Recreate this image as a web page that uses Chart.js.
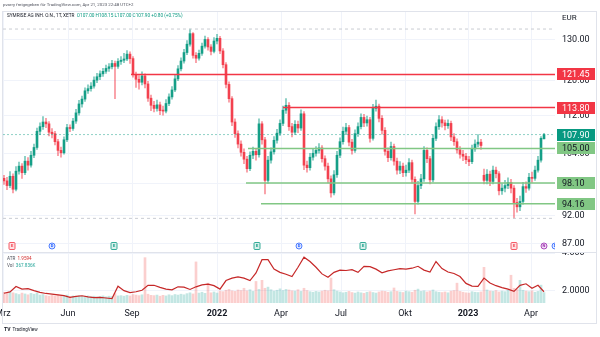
<!DOCTYPE html>
<html>
<head>
<meta charset="utf-8">
<script src="https://cdn.jsdelivr.net/npm/chart.js@4.4.0/dist/chart.umd.min.js"></script>
<style>
  body { margin: 0; width: 600px; height: 337px; background: #fff; overflow: hidden; position: relative; font-family: Roboto, sans-serif; }
  canvas { position: absolute; left: 0; }
  #priceChart { top: 11px; }
  #atrChart { top: 252px; }
  #frame { position: absolute; left: 2px; top: 11px; width: 595px; height: 313px; border: 1px solid #e0e3eb; box-sizing: border-box; pointer-events: none; }
  #sep { position: absolute; left: 2px; top: 252px; width: 595px; height: 1px; background: #e0e3eb; }
  .txt { position: absolute; white-space: nowrap; line-height: 1; }
  #shared { left: 3px; top: 3px; font-size: 4.4px; color: #50535e; }
  #legend { left: 7px; top: 14px; font-size: 4.7px; color: #131722; }
  #legend .v { color: #089981; }
  #cur { left: 562px; top: 14px; font-size: 8px; color: #131722; }
  #atrLegend { left: 7px; top: 255px; font-size: 4.6px; color: #50535e; line-height: 7px; }
  #atrLegend .a { color: #d32f2f; }
  #atrLegend .vv { color: #26a69a; }
  #brand { left: 4px; top: 327px; font-size: 4.6px; color: #131722; }
  #brand b { font-size: 5px; margin-right: 1px; }
</style>
</head>
<body>
<canvas id="priceChart" width="597" height="241"></canvas>
<canvas id="atrChart" width="597" height="71"></canvas>
<div id="sep"></div>
<div id="frame"></div>
<div class="txt" id="shared">pvarry freigegeben für TradingView.com, Apr 21, 2023 22:48 UTC+2</div>
<div class="txt" id="legend"></div>
<div class="txt" id="cur">EUR</div>
<div class="txt" id="atrLegend"></div>
<div class="txt" id="brand"><b>TV</b> TradingView</div>
<script>
// SYMRISE AG, daily candles grouped by 3 sessions (x = session number)
const step = 3;
const opens = [
  99.0, 98.5, 97.6, 99.4, 96.9, 100.4, 101.4, 100.1, 102.4, 101.6,
  103.6, 105.2, 108.6, 109.6, 110.6, 110.2, 108.4, 108.1, 106.4, 104.6,
  104.1, 106.8, 109.4, 109.2, 110.8, 112.6, 114.6, 115.7, 117.6, 118.1,
  118.7, 120.1, 120.9, 121.6, 122.2, 122.9, 123.3, 124.1, 123.4, 124.6,
  124.9, 125.2, 126.4, 125.3, 121.4, 120.3, 119.6, 121.1, 119.2, 115.9,
  114.3, 113.6, 114.4, 113.1, 113.0, 114.7, 116.2, 117.8, 120.4, 122.8,
  124.7, 126.8, 128.9, 131.6, 126.1, 125.4, 126.6, 128.4, 130.1, 128.2,
  127.1, 129.7, 130.4, 127.2, 123.8, 119.1, 115.8, 110.6, 108.1, 105.9,
  104.2, 102.8, 100.9, 103.6, 104.4, 103.7, 110.2, 106.8, 98.6, 102.6,
  104.3, 106.7, 108.2, 110.3, 113.2, 114.3, 109.6, 108.4, 110.1, 109.3,
  112.4, 101.6, 101.1, 103.2, 104.0, 104.6, 105.1, 102.9, 101.4, 98.9,
  96.2, 99.7, 103.6, 106.4, 108.6, 109.4, 106.3, 104.6, 108.1, 109.6,
  111.6, 110.4, 111.1, 107.1, 113.6, 114.1, 111.4, 108.8, 104.4, 103.1,
  105.4, 102.4, 100.6, 101.4, 100.1, 100.6, 102.1, 98.8, 94.6, 97.6,
  98.9, 104.6, 102.9, 98.7, 107.1, 109.6, 111.1, 110.4, 109.8, 110.3,
  107.4, 106.4, 104.7, 103.8, 103.4, 102.7, 102.3, 104.9, 105.9, 106.3,
  99.6, 98.6, 99.8, 98.4, 100.6, 99.9, 96.6, 97.1, 97.6, 98.2,
  97.1, 94.4, 93.6, 94.6, 97.4, 97.1, 99.2, 99.0, 100.6, 102.6,
  107.0
];
const highs = [
  99.6, 99.2, 100.3, 99.9, 101.3, 102.2, 101.9, 103.4, 103.1, 104.4,
  105.9, 109.3, 110.4, 111.8, 111.4, 110.7, 109.2, 108.6, 106.9, 105.3,
  107.4, 110.1, 110.0, 111.4, 113.4, 115.4, 116.4, 118.3, 119.0, 119.5,
  120.9, 121.7, 122.3, 122.9, 123.7, 124.1, 124.9, 124.7, 125.3, 125.8,
  126.6, 127.3, 127.0, 125.8, 122.0, 121.2, 122.1, 121.6, 119.8, 116.6,
  115.2, 115.5, 115.0, 114.1, 115.6, 116.9, 118.6, 121.3, 123.6, 125.5,
  127.6, 129.8, 132.8, 131.9, 126.8, 127.4, 129.2, 131.0, 130.6, 128.8,
  130.6, 131.4, 130.9, 127.8, 124.3, 119.7, 116.3, 111.3, 108.7, 106.6,
  104.9, 103.4, 104.3, 105.3, 105.0, 111.3, 110.7, 107.3, 103.4, 105.1,
  107.5, 109.0, 111.1, 114.1, 115.8, 114.9, 110.3, 110.9, 110.8, 113.3,
  112.9, 102.4, 104.0, 104.8, 105.4, 106.0, 105.6, 103.5, 102.0, 99.5,
  100.5, 104.4, 107.2, 109.5, 110.3, 109.9, 106.9, 108.9, 110.4, 112.4,
  112.3, 111.9, 111.6, 114.5, 115.5, 114.6, 112.0, 109.4, 105.1, 106.3,
  105.9, 103.0, 102.3, 102.0, 101.6, 102.9, 102.6, 99.3, 98.4, 99.8,
  105.4, 105.1, 103.4, 107.9, 110.4, 112.0, 111.8, 111.0, 111.1, 110.8,
  108.1, 107.0, 105.4, 104.6, 104.0, 103.4, 105.7, 106.8, 107.9, 106.9,
  100.8, 100.7, 100.4, 101.4, 101.2, 100.3, 98.0, 98.6, 99.1, 98.8,
  97.6, 95.2, 95.6, 98.2, 98.3, 100.0, 100.2, 101.4, 103.4, 107.5,
  108.15
];
const lows = [
  97.8, 96.8, 97.2, 96.2, 96.6, 99.8, 99.0, 99.7, 100.6, 101.2,
  103.1, 104.8, 107.9, 109.0, 109.4, 107.6, 107.2, 105.7, 103.5, 103.2,
  103.8, 106.4, 108.5, 108.8, 110.3, 112.1, 113.9, 115.2, 117.0, 117.5,
  118.2, 119.5, 120.2, 121.0, 121.7, 122.2, 122.8, 115.8, 122.9, 123.9,
  124.3, 124.8, 124.1, 120.8, 118.4, 118.0, 119.0, 118.3, 115.2, 113.1,
  112.8, 113.0, 112.2, 112.1, 112.6, 114.2, 115.7, 117.4, 120.0, 122.3,
  124.2, 126.3, 128.4, 125.4, 124.3, 124.9, 126.1, 127.9, 127.4, 126.2,
  126.7, 129.0, 126.5, 123.0, 118.3, 115.0, 109.8, 107.3, 105.1, 103.4,
  101.9, 100.2, 100.5, 102.9, 102.6, 103.2, 105.9, 96.0, 98.0, 102.0,
  103.8, 106.1, 107.7, 109.8, 112.5, 108.8, 107.4, 107.9, 108.3, 108.8,
  100.7, 100.2, 100.6, 102.6, 103.4, 104.0, 102.2, 100.6, 98.1, 95.4,
  95.8, 99.2, 103.1, 105.9, 107.9, 105.5, 103.8, 104.2, 107.5, 109.1,
  109.6, 109.7, 106.3, 106.7, 113.0, 110.6, 108.0, 103.6, 102.3, 102.6,
  101.6, 99.8, 99.9, 99.3, 99.4, 100.1, 98.0, 92.3, 94.1, 97.0,
  98.4, 102.1, 97.9, 98.3, 106.6, 109.0, 109.5, 108.9, 109.2, 106.6,
  105.6, 104.0, 103.0, 102.5, 101.9, 101.5, 101.9, 104.4, 105.3, 104.8,
  97.9, 97.9, 97.6, 97.9, 99.1, 95.8, 95.9, 96.4, 97.0, 96.2,
  91.5, 92.6, 92.9, 94.1, 96.3, 96.7, 98.2, 98.6, 100.2, 102.2,
  107.0
];
const closes = [
  98.5, 97.6, 99.4, 96.9, 100.4, 101.4, 100.1, 102.4, 101.6, 103.6,
  105.2, 108.6, 109.6, 110.6, 110.2, 108.4, 108.1, 106.4, 104.6, 104.1,
  106.8, 109.4, 109.2, 110.8, 112.6, 114.6, 115.7, 117.6, 118.1, 118.7,
  120.1, 120.9, 121.6, 122.2, 122.9, 123.3, 124.1, 123.4, 124.6, 124.9,
  125.2, 126.4, 125.3, 121.4, 120.3, 119.6, 121.1, 119.2, 115.9, 114.3,
  113.6, 114.4, 113.1, 113.0, 114.7, 116.2, 117.8, 120.4, 122.8, 124.7,
  126.8, 128.9, 131.6, 126.1, 125.4, 126.6, 128.4, 130.1, 128.2, 127.1,
  129.7, 130.4, 127.2, 123.8, 119.1, 115.8, 110.6, 108.1, 105.9, 104.2,
  102.8, 100.9, 103.6, 104.4, 103.7, 110.2, 106.8, 98.6, 102.6, 104.3,
  106.7, 108.2, 110.3, 113.2, 114.3, 109.6, 108.4, 110.1, 109.3, 112.4,
  101.6, 101.1, 103.2, 104.0, 104.6, 105.1, 102.9, 101.4, 98.9, 96.2,
  99.7, 103.6, 106.4, 108.6, 109.4, 106.3, 104.6, 108.1, 109.6, 111.6,
  110.4, 111.1, 107.1, 113.6, 114.1, 111.4, 108.8, 104.4, 103.1, 105.4,
  102.4, 100.6, 101.4, 100.1, 100.6, 102.1, 98.8, 94.6, 97.6, 98.9,
  104.6, 102.9, 98.7, 107.1, 109.6, 111.1, 110.4, 109.8, 110.3, 107.4,
  106.4, 104.7, 103.8, 103.4, 102.7, 102.3, 104.9, 105.9, 106.3, 105.6,
  98.6, 99.8, 98.4, 100.6, 99.9, 96.6, 97.1, 97.6, 98.2, 97.1,
  94.4, 93.6, 94.6, 97.4, 97.1, 99.2, 99.0, 100.6, 102.6, 107.1,
  107.9
];
// volume in thousands of shares
const volumes = [
  380, 340, 410, 360, 330, 300, 350, 320, 290, 340,
  310, 360, 280, 300, 260, 240, 270, 250, 290, 260,
  240, 280, 230, 250, 220, 260, 240, 230, 250, 220,
  240, 210, 230, 250, 220, 240, 230, 330, 250, 260,
  240, 270, 250, 300, 280, 260, 290, 1600, 310, 270,
  260, 280, 240, 270, 250, 290, 260, 300, 280, 310,
  290, 330, 360, 320, 1450, 350, 380, 340, 700, 360,
  390, 350, 420, 400, 450, 480, 430, 410, 460, 440,
  520, 430, 470, 410, 760, 480, 800, 520, 560, 470,
  420, 450, 500, 440, 480, 460, 430, 420, 470, 410,
  520, 440, 400, 380, 410, 390, 420, 450, 430, 880,
  470, 420, 390, 360, 380, 410, 370, 350, 390, 360,
  340, 380, 400, 370, 350, 390, 420, 410, 380, 400,
  530, 410, 390, 370, 420, 400, 380, 450, 490, 410,
  430, 390, 420, 460, 400, 380, 370, 390, 360, 420,
  440, 700, 410, 380, 360, 350, 400, 380, 370, 390,
  1260, 460, 420, 410, 440, 390, 420, 400, 450, 980,
  520, 480, 800, 450, 420, 400, 430, 380, 410, 630,
  367.836
];
// ATR(14), one value every 6 sessions
const atrStep = 6;
const atr = [
  1.88, 1.95, 2.24, 2.10, 2.12, 2.02, 1.93, 1.87, 1.84, 1.80,
  1.76, 1.67, 1.72, 1.75, 1.69, 1.65, 1.66, 1.63, 1.60, 2.25,
  2.02, 1.92, 1.96, 2.04, 2.30, 2.30, 2.19, 2.10, 2.06, 2.22,
  2.20, 2.08, 2.22, 2.32, 2.36, 2.28, 2.10, 2.55, 2.68, 2.74,
  2.68, 2.55, 2.95, 3.65, 3.65, 3.15, 2.98, 2.88, 2.76, 3.25,
  3.78, 3.55, 3.25, 2.90, 2.72, 2.98, 3.10, 3.08, 3.12, 2.98,
  3.30, 3.28, 3.15, 2.96, 3.06, 3.12, 3.18, 3.15, 3.20, 3.30,
  3.10, 3.00, 3.55, 3.18, 3.00, 2.92, 2.76, 2.40, 2.26, 2.24,
  2.68, 2.42, 2.28, 2.18, 2.10, 1.98, 2.30, 2.38, 2.14, 2.30,
  1.9594
];

// horizontal levels drawn on the chart and the session where each starts
const levelPrices = [121.45, 113.80, 105.00, 98.10, 94.16];
const levelStarts = [127, 279, 244, 242, 257];
const levelKinds = ['res', 'res', 'sup', 'sup', 'sup'];

// axis ticks
const priceTicks = [87, 92, 98, 104, 112, 120, 130];
const atrTicks = [2, 4];
const atrTickLabels = ['2.0000', '4.000'];
const monthDays = [-1, 64, 128, 213, 277, 337, 401, 464, 527];
const monthLabels = ['Mrz', 'Jun', 'Sep', '2022', 'Apr', 'Jul', 'Okt', '2023', 'Apr'];

// earnings / dividend / news flags along the bottom of the price pane
const eventDays = [8, 48, 110, 253, 295, 359, 510, 540, 551];
const eventKinds = ['miss', 'div', 'beat', 'beat', 'div', 'beat', 'miss', 'news', 'div'];

const UP = 'rgba(8,153,129,0.9)', DOWN = 'rgba(242,54,69,0.9)';
const xMin = -1, xMax = 551;
const levelStyle = {
  res: { line: '#f23645', tag: '#f23645', text: '#ffffff' },
  sup: { line: '#81c784', tag: '#81c784', text: '#131722' }
};
const markStyle = {
  miss: { color: '#f23645', letter: 'E', round: false },
  beat: { color: '#089981', letter: 'E', round: false },
  div: { color: '#2962ff', letter: 'D', round: true },
  news: { color: '#9c27b0', letter: 'N', round: true }
};

Chart.defaults.font.family = 'Roboto, sans-serif';
Chart.defaults.color = '#131722';

const last = closes.length - 1;
const isUp = closes.map((c, i) => c >= opens[i]);
const days = closes.map((_, i) => i * step);
const hiMark = Math.max(...highs);
const loMark = Math.min(...lows);

// legend texts
const chg = closes[last] - closes[last - 1];
const sign = chg >= 0 ? '+' : '';
document.getElementById('legend').innerHTML =
  'SYMRISE AG INH. O.N., 1T, XETR&nbsp; <span class="v">O' + opens[last].toFixed(2) +
  ' H' + highs[last].toFixed(2) + ' L' + lows[last].toFixed(2) + ' C' + closes[last].toFixed(2) +
  ' ' + sign + chg.toFixed(2) + ' (' + sign + (chg / closes[last - 1] * 100).toFixed(2) + '%)</span>';
document.getElementById('atrLegend').innerHTML =
  'ATR&nbsp; <span class="a">' + atr[atr.length - 1].toFixed(4) + '</span><br>Vol&nbsp; <span class="vv">' +
  volumes[last].toFixed(3) + 'K</span>';

const hLine = (y0, start, color, width, dash) => ({
  type: 'line',
  data: [{ x: start, y: y0 }, { x: xMax, y: y0 }],
  borderColor: color,
  borderWidth: width,
  borderDash: dash || [],
  pointRadius: 0,
  order: 1
});

// price tags on the right scale
const priceTags = {
  id: 'priceTags',
  afterDraw(chart) {
    const { ctx, scales: { y }, chartArea } = chart;
    ctx.save();
    ctx.font = '9px Roboto';
    ctx.textBaseline = 'middle';
    const tag = (p, bg, fg) => {
      const py = Math.round(y.getPixelForValue(p));
      ctx.fillStyle = bg;
      ctx.fillRect(chartArea.right + 2, py - 6, 38, 12);
      ctx.fillStyle = fg;
      ctx.fillText(p.toFixed(2), chartArea.right + 7, py + 0.5);
    };
    levelPrices.forEach((p, k) => tag(p, levelStyle[levelKinds[k]].tag, levelStyle[levelKinds[k]].text));
    tag(closes[last], '#089981', '#ffffff');
    ctx.restore();
  }
};

const eventMarks = {
  id: 'eventMarks',
  afterDatasetsDraw(chart) {
    const { ctx, scales: { x }, chartArea } = chart;
    const cy = chartArea.bottom - 6;
    ctx.save();
    ctx.beginPath();
    ctx.rect(chartArea.left, chartArea.top, chartArea.right - chartArea.left, chartArea.bottom - chartArea.top);
    ctx.clip();
    ctx.font = 'bold 4px Roboto';
    ctx.textAlign = 'center';
    ctx.textBaseline = 'middle';
    ctx.lineWidth = 0.8;
    eventDays.forEach((d, k) => {
      const m = markStyle[eventKinds[k]];
      const cx = x.getPixelForValue(d);
      ctx.beginPath();
      if (m.round) ctx.arc(cx, cy, 3, 0, Math.PI * 2);
      else ctx.roundRect(cx - 3, cy - 3.5, 6, 7, 1);
      ctx.fillStyle = '#ffffff';
      ctx.fill();
      ctx.globalAlpha = 0.15;
      ctx.fillStyle = m.color;
      ctx.fill();
      ctx.globalAlpha = 1;
      ctx.strokeStyle = m.color;
      ctx.stroke();
      ctx.fillStyle = m.color;
      ctx.fillText(m.letter, cx, cy + 0.3);
    });
    ctx.restore();
  }
};

const noPad = (s) => { s.paddingLeft = 0; s.paddingRight = 0; s.paddingTop = 0; s.paddingBottom = 0; };

const priceChart = new Chart(document.getElementById('priceChart'), {
  type: 'bar',
  data: {
    datasets: [
      ...levelPrices.map((p, k) => hLine(p, levelStarts[k], levelStyle[levelKinds[k]].line, 1.5)),
      hLine(closes[last], xMin, 'rgba(8,153,129,0.45)', 1, [2, 2]),
      hLine(hiMark, xMin, '#c9ccd3', 1, [3, 3]),
      hLine(loMark, xMin, '#c9ccd3', 1, [3, 3]),
      {
        // candle bodies
        data: days.map((d, i) => ({ x: d, y: [opens[i], closes[i]] })),
        backgroundColor: isUp.map(u => u ? UP : DOWN),
        barThickness: 2,
        minBarLength: 1,
        grouped: false,
        order: 2
      },
      {
        // wicks
        data: days.map((d, i) => ({ x: d, y: [lows[i], highs[i]] })),
        backgroundColor: isUp.map(u => u ? 'rgba(8,153,129,0.55)' : 'rgba(242,54,69,0.55)'),
        barThickness: 1,
        grouped: false,
        order: 3
      }
    ]
  },
  options: {
    responsive: false,
    animation: false,
    layout: { padding: { left: 3, right: 0, top: 0, bottom: 0 } },
    plugins: { legend: { display: false }, tooltip: { enabled: false } },
    scales: {
      x: {
        type: 'linear',
        offset: false,
        min: xMin,
        max: xMax,
        afterBuildTicks: (s) => { s.ticks = monthDays.map(v => ({ value: v })); },
        afterFit: (s) => { s.height = 0; noPad(s); },
        ticks: { display: false },
        grid: { color: '#f0f3fa', drawTicks: false, offset: false },
        border: { display: false }
      },
      y: {
        type: 'logarithmic',
        position: 'right',
        min: 85.64,
        max: 137.6,
        afterBuildTicks: (s) => { s.ticks = priceTicks.map(v => ({ value: v })); },
        afterFit: (s) => { s.width = 42; noPad(s); },
        ticks: { callback: (v) => Number(v).toFixed(2), padding: 7, font: { size: 9 }, color: '#131722' },
        grid: { color: '#f0f3fa', drawTicks: false },
        border: { display: false }
      }
    }
  },
  plugins: [eventMarks, priceTags]
});

const atrChart = new Chart(document.getElementById('atrChart'), {
  type: 'bar',
  data: {
    datasets: [
      {
        type: 'line',
        data: atr.map((v, j) => ({ x: j * atrStep, y: v })),
        borderColor: '#c62828',
        borderWidth: 1.2,
        pointRadius: 0,
        yAxisID: 'y',
        order: 1
      },
      {
        data: days.map((d, i) => ({ x: d, y: volumes[i] })),
        backgroundColor: isUp.map(u => u ? 'rgba(38,166,154,0.28)' : 'rgba(239,83,80,0.28)'),
        barThickness: 2,
        yAxisID: 'yv',
        order: 2
      }
    ]
  },
  options: {
    responsive: false,
    animation: false,
    layout: { padding: { left: 3, right: 0, top: 0, bottom: 0 } },
    plugins: { legend: { display: false }, tooltip: { enabled: false } },
    scales: {
      x: {
        type: 'linear',
        offset: false,
        min: xMin,
        max: xMax,
        afterBuildTicks: (s) => { s.ticks = monthDays.map(v => ({ value: v })); },
        afterFit: (s) => { s.height = 20; noPad(s); },
        ticks: {
          autoSkip: false,
          maxRotation: 0,
          padding: 5,
          color: '#131722',
          callback: (v) => monthLabels[monthDays.indexOf(v)],
          font: (c) => ({ size: 9, weight: /^\d{4}$/.test(c.tick && c.tick.label) ? 'bold' : 'normal' })
        },
        grid: { color: '#f0f3fa', drawTicks: false, offset: false },
        border: { display: false }
      },
      y: {
        position: 'right',
        min: 1.368,
        max: 4.053,
        afterBuildTicks: (s) => { s.ticks = atrTicks.map(v => ({ value: v })); },
        afterFit: (s) => { s.width = 42; noPad(s); },
        ticks: { callback: (v) => atrTickLabels[atrTicks.indexOf(v)], padding: 7, font: { size: 9 }, color: '#131722' },
        grid: { color: '#f0f3fa', drawTicks: false },
        border: { display: false }
      },
      yv: {
        display: false,
        min: 0,
        max: 1800
      }
    }
  }
});
</script>
</body>
</html>
